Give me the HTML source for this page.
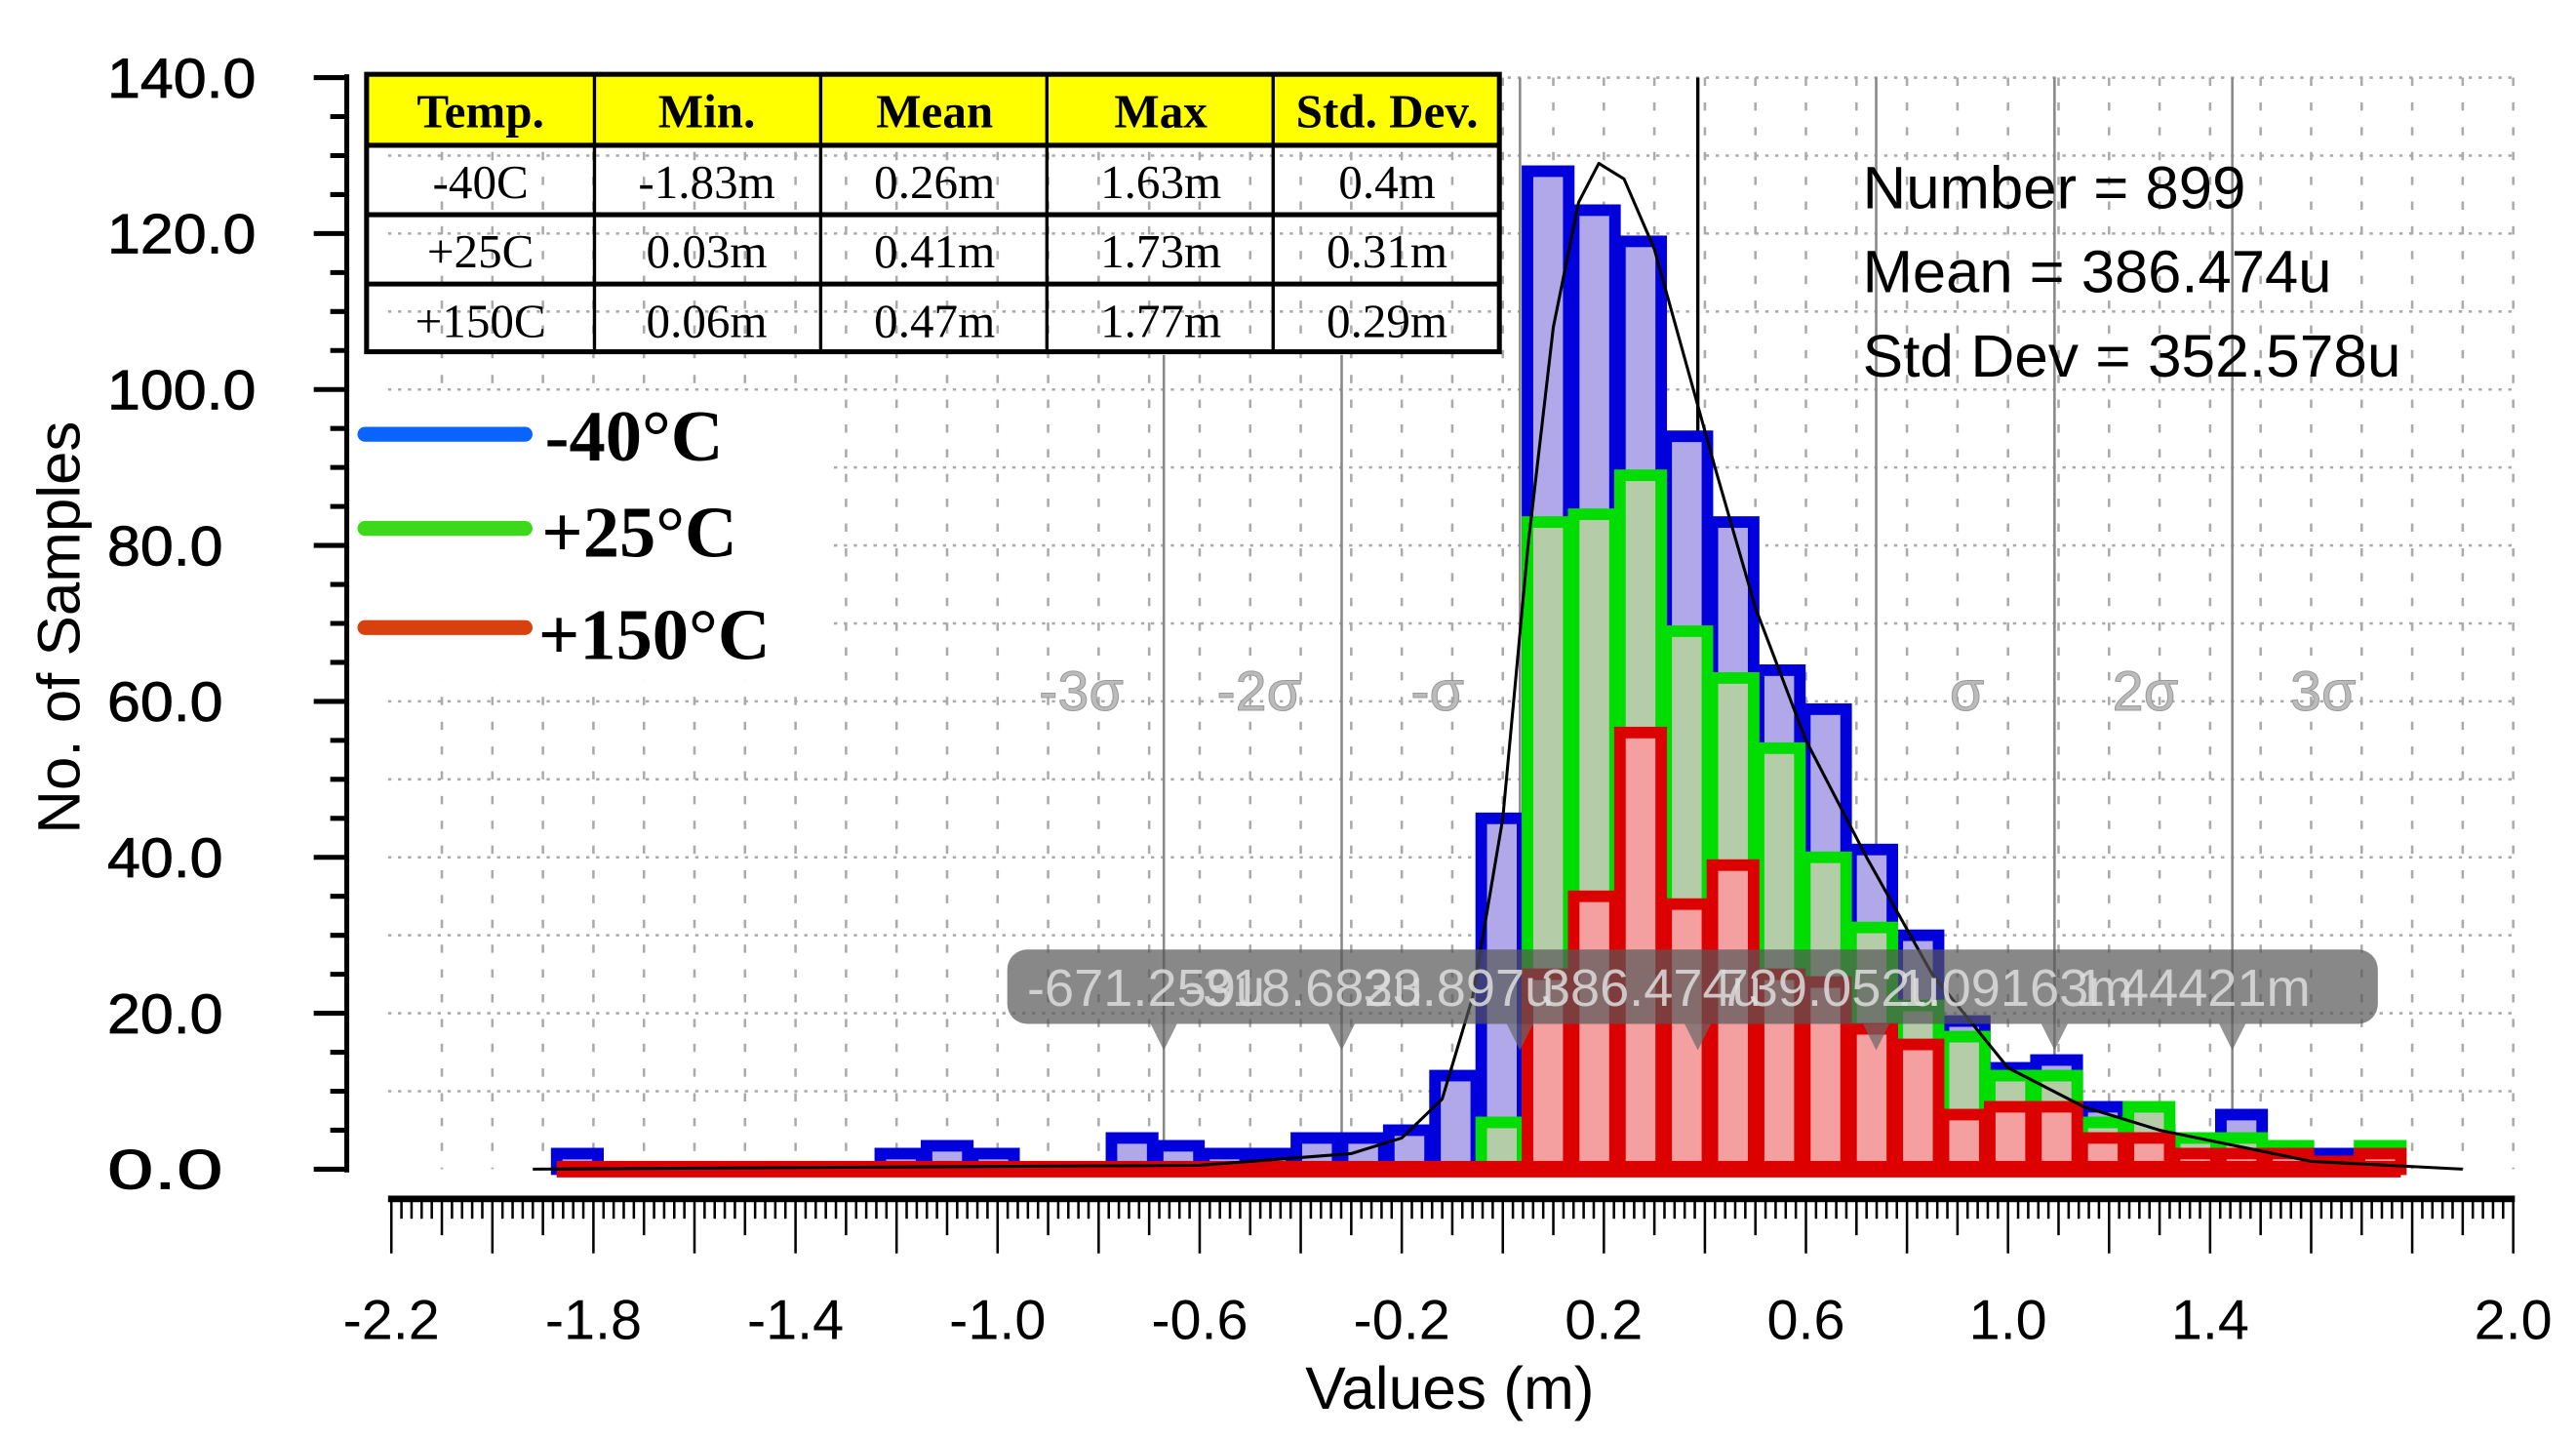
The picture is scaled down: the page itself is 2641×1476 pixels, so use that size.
<!DOCTYPE html>
<html><head><meta charset="utf-8"><style>
html,body{margin:0;padding:0;background:#fff;}
svg{display:block;}
</style></head><body>
<svg id="chart" width="2641" height="1476" viewBox="0 0 1560 872" preserveAspectRatio="none" xmlns="http://www.w3.org/2000/svg" font-family="Liberation Sans, sans-serif">
<g id="grid"></g>
<g id="sigma"></g>
<g id="bars"></g>
<g id="curve"></g>
<g id="axes"></g>
<g id="overlay"></g>
</svg>
<script>
const binStartIndex = -21;
const binOrigin = 0.039;
const binWidth = 0.0915;
const blueCounts = [2,0,0,0,0,0,0,2,3,2,0,0,4,3,2,2,4,4,5,12,45,128,123,119,94,83,64,59,41,30,19,13,14,8,5,4,7,3,2,0];
const greenCounts = [0,0,0,0,0,0,0,0,0,0,0,0,0,0,0,0,0,0,0,0,6,83,84,89,69,63,54,40,31,21,17,12,12,6,8,4,4,3,0,3];
const redCounts = [0,0,0,0,0,0,0,0,0,0,0,0,0,0,0,0,0,0,0,0,0,25,35,56,34,39,25,24,18,16,7,8,8,4,4,2,2,2,1,2];
const curveX = [-1.92,-0.6,-0.3,-0.2,-0.12,-0.06,0.0,0.05,0.1,0.15,0.19,0.24,0.3,0.36,0.42,0.50,0.60,0.72,0.85,1.0,1.15,1.3,1.45,1.6,1.9];
const curveY = [0,0.5,2,4,9,22,45,80,108,124,129,127,118,104,90,72,55,40,25,13,8,5,3,1,0];
const xTickLabels = ["-2.2","-1.8","-1.4","-1.0","-0.6","-0.2","0.2","0.6","1.0","1.4","2.0"];
const yTickLabels = ["0.0","20.0","40.0","60.0","80.0","100.0","120.0","140.0"];
const sigmaValues = [-0.671,-0.319,0.034,0.386,0.739,1.092,1.444];
const sigmaLabels = ["-3σ","-2σ","-σ","","σ","2σ","3σ"];
const markerTexts = ["-671.259u","-318.682u","33.897u","386.474u","739.052u","1.09163m","1.44421m"];

const NS="http://www.w3.org/2000/svg";
const X=v=>237+(v+2.2)*305.95;
const Y=c=>708-c*4.7214;
function mk(parent,tag,attrs,txt){const e=document.createElementNS(NS,tag);for(const k in attrs)e.setAttribute(k,attrs[k]);if(txt!==undefined)e.textContent=txt;document.getElementById(parent).appendChild(e);return e;}

for(let c=10;c<=140;c+=10){const e=mk('grid','line',{x1:235,x2:1522,y1:Y(c),y2:Y(c),stroke:'#aaa','stroke-width':1.5,'stroke-dasharray':'2 4'});

}
for(let v=-2.1;v<=2.01;v+=0.1){const e=mk('grid','line',{x1:X(v),x2:X(v),y1:47,y2:708,stroke:'#aaa','stroke-width':1.5,'stroke-dasharray':'5 10'});

}

sigmaValues.forEach((v,i)=>{
  const top=(i<2)?215:47;
  const e=mk('sigma','line',{x1:X(v),x2:X(v),y1:top,y2:708,stroke:i===3?'#000':'#888','stroke-width':i===3?2:1.5});
  
  
  if(sigmaLabels[i]){const lx=i<3?(X(v)-50):(X(v)+55);
    const t=mk('sigma','text',{x:lx,y:430,'font-size':34,fill:'#bbb','text-anchor':'middle',stroke:'#999','stroke-width':0.6},sigmaLabels[i]);
    
    }
});

function drawSeries(counts,stroke,fill,name,drawZero){
  counts.forEach((c,i)=>{
    if(c===0&&!drawZero)return;
    const k=binStartIndex+i;const v0=binOrigin+k*binWidth;
    const x0=X(v0),x1=X(v0+binWidth);
    const r=mk('bars','rect',{x:x0+3,y:Y(c),width:x1-x0-3,height:708-Y(c),fill:fill,stroke:stroke,'stroke-width':7,'stroke-linejoin':'miter'});
    
    
  });
}
drawSeries(blueCounts,'#0000dd','#b0a8e8','minus40c',false);
drawSeries(greenCounts,'#00dd00','#b4cca8','plus25c',false);
drawSeries(redCounts,'#dd0000','#f4a0a0','plus150c',true);
{
  const v0=binOrigin+binStartIndex*binWidth, v1=binOrigin+(binStartIndex+redCounts.length)*binWidth;
  const r=mk('bars','rect',{x:X(v0)+3,y:703,width:X(v1)-X(v0)-3,height:10,fill:'#dd0000'});
  
  
}

const pts=curveX.map((v,i)=>X(v)+','+Y(curveY[i])).join(' ');
const pl=mk('curve','polyline',{points:pts,fill:'none',stroke:'#000','stroke-width':1.8,'stroke-linejoin':'round'});



let a=mk('axes','line',{x1:210,x2:210,y1:45,y2:710,stroke:'#000','stroke-width':3});


for(let c=0;c<=140;c+=5){const long=c%20===0;const e=mk('axes','line',{x1:long?190:200,x2:210,y1:Y(c),y2:Y(c),stroke:'#000','stroke-width':3});

}
yTickLabels.forEach((s,i)=>{const t=mk('axes','text',{x:65,y:Y(i*20)+12,'font-size':34,fill:'#000',stroke:'#000','stroke-width':0.5,textLength:s.length>4?90:70,lengthAdjust:'spacingAndGlyphs'},s);

});
a=mk('axes','text',{x:0,y:0,'font-size':36,fill:'#000',transform:'translate(48,380) rotate(-90)','text-anchor':'middle',textLength:250,lengthAdjust:'spacingAndGlyphs'},'No. of Samples');


a=mk('axes','line',{x1:235,x2:1523,y1:726,y2:726,stroke:'#000','stroke-width':4});


for(let j=0;j<=210;j++){const v=-2.2+j*0.02;const len=j%10===0?33:(j%5===0?22:12);
const e=mk('axes','line',{x1:X(v),x2:X(v),y1:726,y2:726+len,stroke:'#000','stroke-width':1.5});

}
xTickLabels.forEach(s=>{const t=mk('axes','text',{x:X(parseFloat(s)),y:811,'font-size':34,fill:'#000','text-anchor':'middle'},s);

});
a=mk('axes','text',{x:878,y:853,'font-size':36,fill:'#000','text-anchor':'middle',textLength:175,lengthAdjust:'spacingAndGlyphs'},'Values (m)');



a=mk('overlay','rect',{x:610,y:575,width:830,height:45,rx:12,fill:'#555','fill-opacity':0.7});


sigmaValues.forEach((v,i)=>{
  const p=mk('overlay','polygon',{points:(X(v)-8)+',620 '+(X(v)+8)+',620 '+X(v)+',636',fill:'#666','fill-opacity':0.7});
  
  
  const t=mk('overlay','text',{x:i===0?622:X(v)-95,y:609,'font-size':32,fill:'#ddd','fill-opacity':0.85},markerTexts[i]);
  
  
});
</script>
<svg style="position:absolute;left:0;top:0" width="2641" height="1476" viewBox="0 0 1560 872" preserveAspectRatio="none">
<g>
<rect x="222" y="45" width="686" height="43" fill="#ffff00"/>
<rect x="222" y="45" width="686" height="168" fill="none" stroke="#000" stroke-width="3"/>
<line x1="222" x2="908" y1="88" y2="88" stroke="#000" stroke-width="3"/>
<line x1="222" x2="908" y1="130" y2="130" stroke="#000" stroke-width="3"/>
<line x1="222" x2="908" y1="172" y2="172" stroke="#000" stroke-width="3"/>
<line x1="360" x2="360" y1="45" y2="213" stroke="#000" stroke-width="2"/>
<line x1="497" x2="497" y1="45" y2="213" stroke="#000" stroke-width="2"/>
<line x1="634" x2="634" y1="45" y2="213" stroke="#000" stroke-width="2"/>
<line x1="771" x2="771" y1="45" y2="213" stroke="#000" stroke-width="2"/>
<g font-family="Liberation Serif, serif" font-size="29" text-anchor="middle" font-weight="bold">
<text x="291" y="77">Temp.</text>
<text x="428" y="77">Min.</text>
<text x="566" y="77">Mean</text>
<text x="703" y="77">Max</text>
<text x="840" y="77">Std. Dev.</text>
</g>
<g font-family="Liberation Serif, serif" font-size="29" text-anchor="middle">
<text x="291" y="120">-40C</text>
<text x="428" y="120">-1.83m</text>
<text x="566" y="120">0.26m</text>
<text x="703" y="120">1.63m</text>
<text x="840" y="120">0.4m</text>
<text x="291" y="162">+25C</text>
<text x="428" y="162">0.03m</text>
<text x="566" y="162">0.41m</text>
<text x="703" y="162">1.73m</text>
<text x="840" y="162">0.31m</text>
<text x="291" y="204">+150C</text>
<text x="428" y="204">0.06m</text>
<text x="566" y="204">0.47m</text>
<text x="703" y="204">1.77m</text>
<text x="840" y="204">0.29m</text>
</g>
</g>
<g>
<rect x="214" y="240" width="290" height="172" fill="#fff"/>
<line x1="221" x2="318" y1="263" y2="263" stroke="#0a64ff" stroke-width="9" stroke-linecap="round"/>
<line x1="221" x2="318" y1="320" y2="320" stroke="#3cd81a" stroke-width="9" stroke-linecap="round"/>
<line x1="221" x2="318" y1="380" y2="380" stroke="#d8400e" stroke-width="9" stroke-linecap="round"/>
<g font-family="Liberation Serif, serif" font-size="44" font-weight="bold">
<text x="330" y="279">-40°C</text>
<text x="328" y="337">+25°C</text>
<text x="326" y="399">+150°C</text>
</g>
</g>
<g font-family="Liberation Sans, sans-serif" font-size="36" fill="#000">
<text x="1128" y="126" textLength="232" lengthAdjust="spacingAndGlyphs">Number = 899</text>
<text x="1128" y="177" textLength="284" lengthAdjust="spacingAndGlyphs">Mean = 386.474u</text>
<text x="1128" y="228" textLength="326" lengthAdjust="spacingAndGlyphs">Std Dev = 352.578u</text>
</g>
</svg>
</body></html>
